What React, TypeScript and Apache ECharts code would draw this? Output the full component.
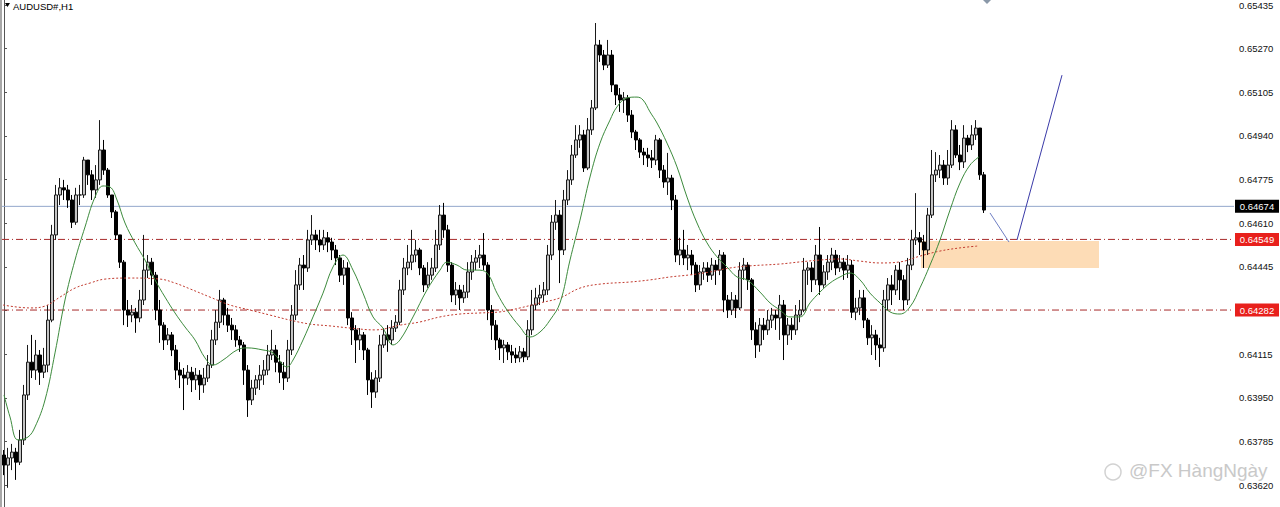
import React, { useEffect, useRef } from "react";
import * as echarts from "echarts";

const firstOpen = 0.63734;
const closes = [
  0.63696, 0.63723, 0.63745, 0.63707, 0.63791, 0.63961, 0.64085, 0.64055, 0.64112, 0.64047,
  0.64074, 0.64244, 0.64566, 0.64717, 0.64744, 0.64736, 0.64698, 0.64614, 0.64717, 0.64717,
  0.64849, 0.64793, 0.64736, 0.64774, 0.64887, 0.64811, 0.64717, 0.64653, 0.64566, 0.64463,
  0.64282, 0.64263, 0.64274, 0.64252, 0.6432, 0.64433, 0.64463, 0.64414, 0.64282, 0.64225,
  0.64169, 0.64188, 0.64131, 0.64055, 0.64036, 0.64025, 0.64047, 0.64018, 0.64036, 0.63999,
  0.64025, 0.64074, 0.64169, 0.64236, 0.6432, 0.64263, 0.64225, 0.64207, 0.64169, 0.6415,
  0.64055, 0.63942, 0.63987, 0.64018, 0.64036, 0.64055, 0.64112, 0.64131, 0.64085, 0.64047,
  0.64025, 0.64131, 0.64263, 0.64377, 0.64452, 0.64441, 0.64547, 0.64566, 0.64547, 0.64528,
  0.64555, 0.64539, 0.64509, 0.64479, 0.64414, 0.64441, 0.64252, 0.64207, 0.64169, 0.64188,
  0.64131, 0.64018, 0.63972, 0.64025, 0.6415, 0.64188, 0.64169, 0.64214, 0.64236, 0.64358,
  0.64441, 0.64463, 0.6449, 0.64509, 0.64441, 0.64377, 0.64414, 0.64441, 0.64528, 0.64641,
  0.64585, 0.64452, 0.64339, 0.64358, 0.64328, 0.6435, 0.64426, 0.64463, 0.64479, 0.6449,
  0.64452, 0.64282, 0.64225, 0.64169, 0.64139, 0.6415, 0.64124, 0.64112, 0.64101, 0.64124,
  0.64105, 0.64207, 0.64301, 0.64328, 0.64339, 0.64358, 0.6449, 0.64614, 0.64641, 0.64509,
  0.64698, 0.64774, 0.64868, 0.64925, 0.64944, 0.64819, 0.64963, 0.65046, 0.65284, 0.65246,
  0.65208, 0.65246, 0.65133, 0.65095, 0.65076, 0.65084, 0.65019, 0.64955, 0.64925, 0.64879,
  0.64868, 0.64857, 0.64849, 0.64925, 0.64811, 0.64766, 0.64781, 0.64698, 0.6449, 0.64509,
  0.64479, 0.6449, 0.64452, 0.64377, 0.64426, 0.64441, 0.64414, 0.64452, 0.64433, 0.6449,
  0.6432, 0.64282, 0.6432, 0.6429, 0.64433, 0.64452, 0.64396, 0.64207, 0.6415, 0.64225,
  0.64207, 0.64244, 0.64263, 0.64252, 0.64301, 0.64188, 0.64225, 0.64207, 0.64263, 0.64282,
  0.64433, 0.64441, 0.64396, 0.6449, 0.64377, 0.64426, 0.64463, 0.6449, 0.64441, 0.64463,
  0.64433, 0.64452, 0.64274, 0.6429, 0.64328, 0.64244, 0.64177, 0.64188, 0.6415, 0.64139,
  0.6432, 0.64377, 0.64358, 0.64433, 0.64396, 0.6432, 0.64452, 0.64547, 0.64555, 0.64539,
  0.64509, 0.64641, 0.64793, 0.64811, 0.6483, 0.64781, 0.6483, 0.64963, 0.64868, 0.64842,
  0.64932, 0.64906, 0.64944, 0.6497, 0.64793, 0.6466,
];
const highs = [
  0.63753, 0.63761, 0.63776, 0.63761, 0.63829, 0.63999, 0.6415, 0.64188, 0.64169, 0.64131,
  0.64139, 0.64301, 0.64604, 0.64755, 0.64781, 0.64774, 0.64755, 0.64717, 0.64744, 0.64755,
  0.64861, 0.64849, 0.64811, 0.6483, 0.65, 0.64925, 0.64819, 0.64717, 0.6466, 0.64566,
  0.64471, 0.6432, 0.64301, 0.6429, 0.64358, 0.64566, 0.6449, 0.64479, 0.64426, 0.6432,
  0.64236, 0.64214, 0.64199, 0.6415, 0.64085, 0.64063, 0.64074, 0.64067, 0.64063, 0.64055,
  0.64063, 0.64112, 0.64207, 0.64282, 0.64358, 0.64328, 0.6429, 0.64252, 0.64225, 0.64184,
  0.64161, 0.64074, 0.64018, 0.64036, 0.64074, 0.64093, 0.6415, 0.64207, 0.6415, 0.64112,
  0.64085, 0.64169, 0.64301, 0.64433, 0.64479, 0.6449, 0.64585, 0.64641, 0.64585, 0.64585,
  0.64585, 0.64577, 0.64555, 0.64528, 0.6449, 0.64471, 0.64463, 0.64274, 0.64225, 0.64214,
  0.64199, 0.64139, 0.64047, 0.64055, 0.64188, 0.64214, 0.64225, 0.64244, 0.64263, 0.64396,
  0.64479, 0.64528, 0.64585, 0.64547, 0.64517, 0.64452, 0.64463, 0.64479, 0.64585, 0.64679,
  0.64687, 0.64604, 0.64463, 0.64388, 0.64377, 0.64377, 0.64463, 0.6449, 0.64509, 0.64528,
  0.64573, 0.64463, 0.64301, 0.64244, 0.64177, 0.64169, 0.64161, 0.6415, 0.64139, 0.64146,
  0.64139, 0.64244, 0.64358, 0.64366, 0.64377, 0.64388, 0.64528, 0.64641, 0.64698, 0.6466,
  0.64736, 0.64811, 0.64906, 0.64981, 0.64981, 0.64963, 0.65008, 0.65076, 0.65367, 0.65303,
  0.65265, 0.65303, 0.65265, 0.65133, 0.65121, 0.65106, 0.65095, 0.65038, 0.64963, 0.64932,
  0.64895, 0.64895, 0.64887, 0.64944, 0.64932, 0.6483, 0.64876, 0.64793, 0.64717, 0.64555,
  0.64585, 0.64528, 0.64509, 0.64463, 0.64452, 0.64463, 0.64463, 0.64479, 0.64471, 0.64509,
  0.64501, 0.64339, 0.6435, 0.64339, 0.64463, 0.64479, 0.64463, 0.64403, 0.64236, 0.64252,
  0.64252, 0.64282, 0.6429, 0.64282, 0.64339, 0.6432, 0.64252, 0.64252, 0.64301, 0.6432,
  0.64479, 0.64463, 0.64463, 0.64528, 0.64596, 0.64452, 0.6449, 0.64517, 0.64509, 0.6449,
  0.64479, 0.6449, 0.64471, 0.64328, 0.64358, 0.64358, 0.64252, 0.64225, 0.64207, 0.64177,
  0.64358, 0.64403, 0.64414, 0.64452, 0.64463, 0.64414, 0.64479, 0.64585, 0.64724, 0.64577,
  0.64566, 0.64668, 0.64887, 0.64879, 0.64868, 0.64849, 0.64887, 0.65, 0.64981, 0.64906,
  0.64981, 0.64944, 0.64981, 0.65, 0.6497, 0.64804,
];
const lows = [
  0.63658, 0.6361, 0.63677, 0.6364, 0.63696, 0.63772, 0.63942, 0.64025, 0.64018, 0.63999,
  0.64025, 0.64047, 0.64236, 0.64547, 0.64679, 0.64698, 0.64668, 0.64592, 0.64604, 0.64679,
  0.64706, 0.64755, 0.64698, 0.64706, 0.64755, 0.64793, 0.64706, 0.6463, 0.64547, 0.64441,
  0.64225, 0.64218, 0.64236, 0.64196, 0.64236, 0.64301, 0.64403, 0.64377, 0.64244, 0.64158,
  0.64131, 0.6415, 0.64108, 0.64018, 0.63987, 0.63904, 0.63999, 0.63972, 0.6398, 0.63942,
  0.63969, 0.6401, 0.64063, 0.6415, 0.64214, 0.64225, 0.64199, 0.64169, 0.64143, 0.64124,
  0.63999, 0.63878, 0.63923, 0.63961, 0.6398, 0.63999, 0.64036, 0.64093, 0.64047, 0.64006,
  0.6398, 0.6401, 0.64112, 0.64244, 0.64358, 0.64358, 0.64426, 0.64528, 0.64509, 0.64501,
  0.64509, 0.64501, 0.64471, 0.64452, 0.64388, 0.64377, 0.64225, 0.6415, 0.64082, 0.64131,
  0.64093, 0.63961, 0.63912, 0.6395, 0.6401, 0.64139, 0.64124, 0.6415, 0.64199, 0.64225,
  0.64339, 0.64414, 0.64433, 0.64463, 0.64414, 0.6435, 0.64366, 0.64396, 0.64426, 0.64509,
  0.64555, 0.64426, 0.64312, 0.64301, 0.64282, 0.64309, 0.64328, 0.64396, 0.64433, 0.64441,
  0.64433, 0.64244, 0.64169, 0.64131, 0.64093, 0.64082, 0.64093, 0.64082, 0.64082, 0.64085,
  0.64085, 0.64093, 0.64188, 0.64282, 0.64301, 0.64312, 0.64339, 0.64471, 0.64585, 0.64384,
  0.6449, 0.64679, 0.64755, 0.64857, 0.64895, 0.64804, 0.64811, 0.64944, 0.65038, 0.6522,
  0.65189, 0.65197, 0.65106, 0.65057, 0.65031, 0.65027, 0.64993, 0.64932, 0.64887, 0.64857,
  0.6483, 0.64823, 0.64819, 0.6483, 0.64781, 0.64744, 0.64717, 0.6466, 0.64463, 0.64452,
  0.64452, 0.64433, 0.64414, 0.6435, 0.64358, 0.64396, 0.64388, 0.64396, 0.64377, 0.64414,
  0.64274, 0.64252, 0.64263, 0.64252, 0.64282, 0.64396, 0.64358, 0.64169, 0.64101, 0.64124,
  0.64169, 0.64188, 0.64214, 0.64207, 0.64169, 0.64093, 0.6415, 0.64169, 0.64188, 0.64236,
  0.64274, 0.64377, 0.6435, 0.64377, 0.64339, 0.64366, 0.64396, 0.64433, 0.64414, 0.64426,
  0.64396, 0.64403, 0.64252, 0.64244, 0.64263, 0.64214, 0.6415, 0.64112, 0.64093, 0.64067,
  0.64124, 0.64282, 0.64301, 0.64339, 0.6432, 0.64282, 0.64301, 0.64433, 0.64528, 0.6449,
  0.64441, 0.6449, 0.6463, 0.64766, 0.64781, 0.64755, 0.64755, 0.64819, 0.64857, 0.64811,
  0.64819, 0.64879, 0.64887, 0.64925, 0.64774, 0.64649,
];

// moving averages (bar index, price)
const greenMaIdx = [0, 1.5, 3.5, 6, 7.75, 10.25, 12.75, 15.25, 17.75, 20.25, 22.75, 24.75, 26.5, 28.25, 30.25, 32.75, 35.25, 37.75, 40.25, 42.75, 45.25, 47.75, 50.25, 52.25, 54.75, 58.25, 60.75, 64.75, 67.25, 70.75, 72.25, 74.75, 77.25, 79.75, 82.25, 84.75, 87.25, 89.75, 92.25, 94.75, 97.25, 99, 102.25, 105.75, 109, 110.75, 113.25, 115.75, 118.25, 120.75, 123.25, 125.75, 129, 131.5, 134, 136.5, 139, 141.5, 144, 146.5, 149, 151.5, 153.25, 155.75, 158.25, 159.75, 161.5, 163.25, 165.75, 168.25, 170.75, 173.25, 175.75, 178.25, 180.75, 183.25, 185.75, 189, 191.5, 194, 196.5, 199, 201.5, 204, 206.5, 209, 211.5, 214, 216.5, 219, 221.5, 224, 226.5, 229, 231.5, 234, 236.5, 239, 241.5, 243.75];
const greenMaVal = [0.63961, 0.63878, 0.63791, 0.63802, 0.6384, 0.63942, 0.6412, 0.6432, 0.64471, 0.64596, 0.64709, 0.64751, 0.64747, 0.64698, 0.64611, 0.64536, 0.64471, 0.64396, 0.64331, 0.64271, 0.64218, 0.64169, 0.64101, 0.64074, 0.64093, 0.64131, 0.64139, 0.64131, 0.6412, 0.64067, 0.64093, 0.64169, 0.64256, 0.64346, 0.64445, 0.6449, 0.64433, 0.64346, 0.64256, 0.64214, 0.6415, 0.64169, 0.64256, 0.64358, 0.64433, 0.64463, 0.64452, 0.64433, 0.64433, 0.64422, 0.64346, 0.64282, 0.64218, 0.6418, 0.64199, 0.64244, 0.64309, 0.64471, 0.64622, 0.64785, 0.64913, 0.65, 0.6505, 0.65084, 0.65087, 0.65076, 0.65031, 0.64989, 0.64913, 0.64823, 0.64709, 0.64611, 0.64536, 0.64483, 0.64445, 0.64407, 0.64396, 0.6435, 0.64309, 0.64282, 0.64256, 0.64256, 0.64309, 0.6435, 0.64384, 0.64407, 0.64422, 0.64396, 0.64346, 0.64309, 0.64275, 0.64267, 0.64294, 0.64366, 0.64452, 0.64547, 0.6466, 0.64762, 0.6483, 0.64861];
const redMaIdx = [-0.25, 6.5, 10.25, 14, 17.75, 21.5, 25.25, 31.5, 39, 42.75, 46.5, 51.5, 56.5, 61.5, 66.5, 71.5, 76.5, 81.5, 86.5, 92.75, 99, 104, 109, 114, 119, 124, 129, 134, 139, 144, 149, 156.5, 161.5, 166.5, 171.5, 176.5, 181.5, 186.5, 194, 199, 204, 209, 214, 219, 224, 229, 234, 239, 243.5];
const redMaVal = [0.64301, 0.6429, 0.64297, 0.64331, 0.64365, 0.64384, 0.64399, 0.64403, 0.64399, 0.64384, 0.64362, 0.64331, 0.64301, 0.64282, 0.64263, 0.64244, 0.64229, 0.64222, 0.64214, 0.64207, 0.64225, 0.64237, 0.64256, 0.64267, 0.64271, 0.64275, 0.6429, 0.64309, 0.64328, 0.64365, 0.6438, 0.64388, 0.64396, 0.64407, 0.64415, 0.64426, 0.64441, 0.64449, 0.64456, 0.64464, 0.64471, 0.64475, 0.64467, 0.6446, 0.64464, 0.64486, 0.64505, 0.64517, 0.64524];

const yTickLabels = ["0.63620", "0.63785", "0.63950", "0.64115", "0.64282", "0.64445", "0.64610", "0.64775", "0.64940", "0.65105", "0.65270", "0.65435"];
const yRange = [0.635375, 0.65454];
const barSlots = [-0.5, 307.5];

const currentPrice = 0.64674;
const levelPrices = [0.64549, 0.64282];
const zoneIdx = [229.25, 273.75];
const zonePrice = [0.64543, 0.64441];
const trendDown = [[246.5, 0.64649], [251.25, 0.64539]];
const trendUp = [[253.25, 0.64547], [264.5, 0.6517]];

export default function App() {
  const ref = useRef<HTMLDivElement>(null);
  useEffect(() => {
    if (!ref.current) return;
    const chart = echarts.init(ref.current, undefined, { renderer: "svg" });
    const rows = closes.map((c, i) => {
      const o = i === 0 ? firstOpen : closes[i - 1];
      return [i, o, c, Math.min(lows[i], o, c), Math.max(highs[i], o, c)];
    });
    const tickVals = yTickLabels.map(Number);
    const font = "Liberation Sans, Arial, sans-serif";

    const levelSeries = (p: number, lineColor: string, lineType: any, tagColor: string) => ({
      type: "line",
      data: [
        [barSlots[0], p],
        [barSlots[1], p],
      ],
      showSymbol: false,
      symbol: "none",
      silent: true,
      clip: false,
      z: 1,
      lineStyle: { color: lineColor, width: 1, type: lineType },
      markPoint: {
        silent: true,
        animation: false,
        symbol: "rect",
        symbolSize: [44, 13],
        symbolOffset: [23, 0],
        itemStyle: { color: tagColor },
        label: {
          show: true,
          position: "inside",
          formatter: p.toFixed(5),
          color: "#ffffff",
          fontSize: 9.5,
          fontFamily: font,
        },
        data: [{ coord: [barSlots[1], p] }],
      },
    });

    chart.setOption({
      animation: false,
      backgroundColor: "#ffffff",
      grid: { left: 2, right: 46, top: 0, bottom: 0, containLabel: false, outerBoundsMode: "none" },
      xAxis: {
        type: "value",
        min: barSlots[0],
        max: barSlots[1],
        show: false,
        splitLine: { show: false },
      },
      yAxis: {
        type: "value",
        position: "right",
        min: yRange[0],
        max: yRange[1],
        splitLine: { show: false },
        axisLine: { show: true, lineStyle: { color: "#555", width: 1 } },
        axisTick: { show: true, length: 3, customValues: tickVals, lineStyle: { color: "#555" } },
        axisLabel: {
          customValues: tickVals,
          formatter: (v: number) => v.toFixed(5),
          color: "#111",
          fontSize: 9.5,
          fontFamily: font,
          margin: 5,
        },
      },
      series: [
        {
          type: "candlestick",
          data: rows,
          encode: { x: 0, y: [1, 2, 3, 4] },
          barWidth: 3,
          silent: true,
          z: 2,
          itemStyle: {
            color: "#c4c4c4",
            color0: "#000000",
            borderColor: "#1a1a1a",
            borderColor0: "#000000",
            borderWidth: 1,
          },
          markArea: {
            silent: true,
            itemStyle: { color: "#fddcb6" },
            data: [[{ coord: [zoneIdx[0], zonePrice[0]] }, { coord: [zoneIdx[1], zonePrice[1]] }]],
          },
        },
        levelSeries(currentPrice, "#93a7cb", "solid", "#000000"),
        ...levelPrices.map((p) => levelSeries(p, "#a82a2a", [7, 3, 1, 3], "#e8201c")),
        {
          type: "line",
          data: redMaIdx.map((x, k) => [x, redMaVal[k]]),
          showSymbol: false,
          smooth: 0.4,
          silent: true,
          z: 3,
          lineStyle: { color: "#c23a2e", width: 1, type: [2, 2] },
        },
        {
          type: "line",
          data: greenMaIdx.map((x, k) => [x, greenMaVal[k]]),
          showSymbol: false,
          smooth: 0.4,
          silent: true,
          z: 3,
          lineStyle: { color: "#3d8b3d", width: 1 },
          markLine: {
            silent: true,
            symbol: ["none", "none"],
            animation: false,
            data: [
              [
                { coord: trendDown[0], lineStyle: { color: "#6f7fc4", width: 1, type: "solid" }, label: { show: false } },
                { coord: trendDown[1], lineStyle: { color: "#6f7fc4", width: 1, type: "solid" }, label: { show: false } },
              ],
              [
                { coord: trendUp[0], lineStyle: { color: "#3a3aa8", width: 1, type: "solid" }, label: { show: false } },
                { coord: trendUp[1], lineStyle: { color: "#3a3aa8", width: 1, type: "solid" }, label: { show: false } },
              ],
            ],
          },
        },
      ],
      graphic: [
        { type: "rect", left: 0, top: 0, shape: { width: 2, height: 507 }, style: { fill: "#a8a8a8" }, z: 10 },
        { type: "polygon", shape: { points: [[5, 3], [10, 3], [7.5, 7]] }, style: { fill: "#000" }, z: 10 },
        {
          type: "text",
          left: 13,
          top: 1,
          style: { text: "AUDUSD#,H1", fill: "#000", fontSize: 9.5, fontFamily: font },
          z: 10,
        },
        { type: "polygon", shape: { points: [[983, 0], [991, 0], [987, 4]] }, style: { fill: "#8a98a8" }, z: 10 },
        {
          type: "circle",
          shape: { cx: 1113, cy: 472, r: 8 },
          style: { fill: "none", stroke: "#d2d2d2", lineWidth: 1.5 },
          z: 10,
        },
        {
          type: "text",
          left: 1129,
          top: 461,
          style: {
            text: "@FX HàngNgày",
            fill: "#c9c9c9",
            fontSize: 19,
            fontFamily: font,
          },
          z: 10,
        },
      ],
    });
    return () => chart.dispose();
  }, []);
  return (
    <div
      ref={ref}
      style={{ position: "fixed", left: 0, top: 0, width: 1280, height: 507, background: "#fff" }}
    />
  );
}
